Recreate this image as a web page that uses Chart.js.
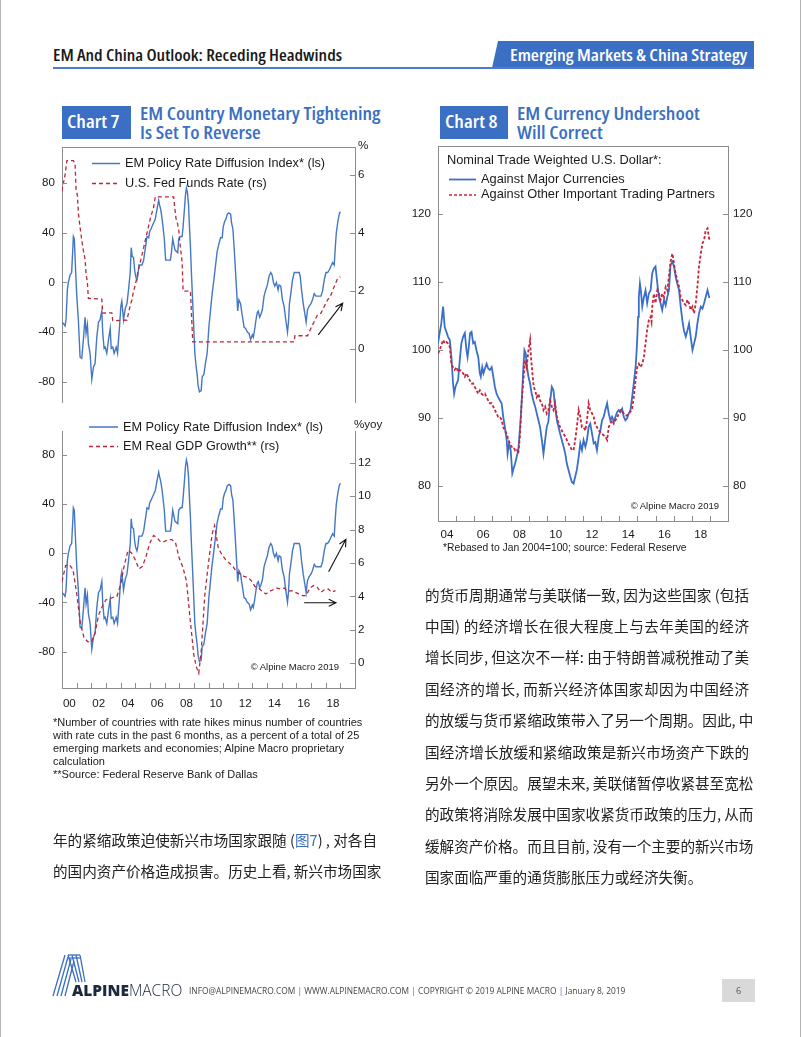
<!DOCTYPE html>
<html><head><meta charset="utf-8">
<script src="https://cdn.jsdelivr.net/npm/chart.js@4.4.1/dist/chart.umd.min.js"></script>
<style>
html,body{margin:0;padding:0;background:#fff;}
#page{position:relative;width:802px;height:1037px;overflow:hidden;font-family:"Liberation Sans",Arial,Helvetica,sans-serif;color:#1a1a1a;}
.t{position:absolute;white-space:nowrap;line-height:20px;}
.cond{font-family:"Open Sans",sans-serif;font-weight:600;font-stretch:75%;transform-origin:0 50%;}
canvas{position:absolute;}
.cn{position:absolute;left:0;width:324px;font-family:"Noto Sans CJK SC",sans-serif;font-size:14.6px;line-height:24px;color:#222;white-space:nowrap;text-align:justify;text-align-last:justify;}
.cn.last{text-align-last:left;}
</style></head>
<body><div id="page">
<!-- page frame -->
<div style="position:absolute;left:0;top:0;width:1px;height:1037px;background:#b5b5b5"></div>
<div style="position:absolute;left:800px;top:0;width:1px;height:1037px;background:#b5b5b5"></div>

<!-- header -->
<div class="t cond" style="left:53px;top:45px;font-size:15.3px;color:#1a1a1a;transform:scaleX(1.17)">EM And China Outlook: Receding Headwinds</div>
<div style="position:absolute;left:492px;top:41px;width:262px;height:27px;background:#3a6fc4;clip-path:polygon(6px 0,100% 0,100% 100%,0 100%)"></div>
<div class="t cond" style="left:510px;top:45px;font-size:15.6px;color:#fff;transform:scaleX(1.19)">Emerging Markets &amp; China Strategy</div>
<div style="position:absolute;left:53px;top:67px;width:701px;height:1.5px;background:#4f7cc8"></div>

<!-- chart titles -->
<div style="position:absolute;left:62px;top:106px;width:69px;height:33px;background:#3a6fc4"></div>
<div class="t cond" style="left:67px;top:112px;font-size:17.2px;color:#fff;transform:scaleX(1.17)">Chart 7</div>
<div class="t cond" style="left:140px;top:104px;font-size:17.2px;color:#3a6fc4;transform:scaleX(1.165)">EM Country Monetary Tightening</div>
<div class="t cond" style="left:140px;top:123px;font-size:17.2px;color:#3a6fc4;transform:scaleX(1.165)">Is Set To Reverse</div>

<div style="position:absolute;left:440px;top:106px;width:68px;height:33px;background:#3a6fc4"></div>
<div class="t cond" style="left:445px;top:112px;font-size:17.2px;color:#fff;transform:scaleX(1.17)">Chart 8</div>
<div class="t cond" style="left:517px;top:104px;font-size:17.2px;color:#3a6fc4;transform:scaleX(1.17)">EM Currency Undershoot</div>
<div class="t cond" style="left:517px;top:123px;font-size:17.2px;color:#3a6fc4;transform:scaleX(1.17)">Will Correct</div>

<!-- canvases -->
<canvas id="c7a" width="360" height="256" style="left:30px;top:147px"></canvas>
<canvas id="c7b" width="360" height="282" style="left:30px;top:431px"></canvas>
<canvas id="c8" width="360" height="400" style="left:400px;top:146px"></canvas>

<!-- legend samples -->
<svg style="position:absolute;left:0;top:0" width="802" height="1037">
  <line x1="92" y1="163.5" x2="120" y2="163.5" stroke="#4577c4" stroke-width="1.5"/>
  <line x1="92" y1="183.5" x2="120" y2="183.5" stroke="#b8283b" stroke-width="1.3" stroke-dasharray="4 3"/>
  <line x1="89" y1="427" x2="118" y2="427" stroke="#4577c4" stroke-width="1.5"/>
  <line x1="89" y1="446.5" x2="118" y2="446.5" stroke="#b8283b" stroke-width="1.3" stroke-dasharray="4 3"/>
  <line x1="449" y1="179.5" x2="476" y2="179.5" stroke="#3a6fc9" stroke-width="1.8"/>
  <line x1="449" y1="195" x2="476" y2="195" stroke="#c8243a" stroke-width="1.6" stroke-dasharray="3 2"/>
</svg>
<div class="t" style="left:125px;top:153px;font-size:12.7px">EM Policy Rate Diffusion Index* (ls)</div>
<div class="t" style="left:125px;top:173px;font-size:12.7px">U.S. Fed Funds Rate (rs)</div>
<div class="t" style="left:358px;top:135px;font-size:11.6px">%</div>
<div class="t" style="left:123px;top:417px;font-size:12.7px">EM Policy Rate Diffusion Index* (ls)</div>
<div class="t" style="left:123px;top:436px;font-size:12.7px">EM Real GDP Growth** (rs)</div>
<div class="t" style="left:354px;top:414px;font-size:11.6px">%yoy</div>
<div class="t" style="left:240px;width:99px;text-align:right;top:657px;font-size:9.5px">© Alpine Macro 2019</div>

<!-- chart 8 legend -->
<div class="t" style="left:447px;top:150px;font-size:12.8px">Nominal Trade Weighted U.S. Dollar*:</div>
<div class="t" style="left:481px;top:169px;font-size:12.8px">Against Major Currencies</div>
<div class="t" style="left:481px;top:184px;font-size:12.8px">Against Other Important Trading Partners</div>
<div class="t" style="left:600px;width:119px;text-align:right;top:496px;font-size:9.5px">© Alpine Macro 2019</div>

<!-- footnotes -->
<div style="position:absolute;left:53px;top:716px;font-size:11px;line-height:13px;white-space:nowrap">*Number of countries with rate hikes minus number of countries<br>with rate cuts in the past 6 months, as a percent of a total of 25<br>emerging markets and economies; Alpine Macro proprietary<br>calculation<br>**Source: Federal Reserve Bank of Dallas</div>
<div class="t" style="left:443px;top:538px;font-size:10.3px">*Rebased to Jan 2004=100; source: Federal Reserve</div>

<!-- chinese text left -->
<div style="position:absolute;left:53px;top:828px;width:324px;height:70px">
  <div class="cn" style="top:0">年的紧缩政策迫使新兴市场国家跟随 (<span style="color:#3a6fc4">图7</span>) , 对各自</div>
  <div class="cn" style="top:31px">的国内资产价格造成损害。历史上看, 新兴市场国家</div>
</div>
<!-- chinese text right -->
<div style="position:absolute;left:425px;top:582.5px;width:324px;height:320px">
  <div class="cn" style="top:0px">的货币周期通常与美联储一致, 因为这些国家 (包括</div>
  <div class="cn" style="top:31.4px">中国) 的经济增长在很大程度上与去年美国的经济</div>
  <div class="cn" style="top:62.8px">增长同步, 但这次不一样: 由于特朗普减税推动了美</div>
  <div class="cn" style="top:94.2px">国经济的增长, 而新兴经济体国家却因为中国经济</div>
  <div class="cn" style="top:125.6px">的放缓与货币紧缩政策带入了另一个周期。因此, 中</div>
  <div class="cn" style="top:157px">国经济增长放缓和紧缩政策是新兴市场资产下跌的</div>
  <div class="cn" style="top:188.4px">另外一个原因。展望未来, 美联储暂停收紧甚至宽松</div>
  <div class="cn" style="top:219.8px">的政策将消除发展中国家收紧货币政策的压力, 从而</div>
  <div class="cn" style="top:251.2px">缓解资产价格。而且目前, 没有一个主要的新兴市场</div>
  <div class="cn last" style="top:282.6px">国家面临严重的通货膨胀压力或经济失衡。</div>
</div>

<!-- footer -->
<svg style="position:absolute;left:50px;top:952px" width="46" height="46" viewBox="0 0 46 46">
  <g stroke="#3a6fc4" stroke-width="1.3" fill="none">
    <line x1="3" y1="44" x2="15" y2="3"/>
    <line x1="7" y1="44" x2="18" y2="5"/>
    <line x1="11" y1="44" x2="21" y2="7"/>
    <line x1="15" y1="44" x2="24" y2="9"/>
    <line x1="18" y1="3" x2="30" y2="3"/>
    <line x1="19" y1="6" x2="31" y2="6"/>
    <line x1="18" y1="3" x2="26" y2="30"/>
    <line x1="22" y1="3" x2="29" y2="30"/>
    <line x1="26" y1="3" x2="32" y2="30"/>
    <line x1="30" y1="3" x2="35" y2="30"/>
  </g>
</svg>
<div class="t" style="left:72px;top:980px;font-family:'Open Sans',sans-serif;font-size:15.5px;color:#1c2740"><b style="font-weight:800">ALPINE</b><span style="font-weight:300">MACRO</span></div>
<div class="t" style="left:189px;top:981px;font-family:'Open Sans',sans-serif;font-size:8.4px;color:#444">INFO@ALPINEMACRO.COM <span style="color:#3a6fc4">|</span> WWW.ALPINEMACRO.COM <span style="color:#3a6fc4">|</span> COPYRIGHT © 2019 ALPINE MACRO <span style="color:#3a6fc4">|</span> January 8, 2019</div>
<div style="position:absolute;left:722px;top:979px;width:33px;height:23px;background:#d9d9d9"></div>
<div class="t" style="left:722px;width:33px;text-align:center;top:980.5px;font-family:'Open Sans',sans-serif;font-size:9px;color:#555">6</div>
</div>

<script>
// ===== DATA =====
// Chart 7: EM policy rate diffusion index (months since Jan 2000, value)
const diffMonths = [0,1.1,2.5,3.3,4.4,5.2,6.6,7.9,8.8,9.3,10.1,11,12.1,13.4,14.8,16.2,17.5,18.9,19.7,20.8,21.6,23,24.4,25.8,27.1,28.5,29.9,31.2,32.6,33.4,34.5,35.3,36.7,38.1,39.5,40.3,41.6,42.7,44.4,45.5,46.3,47.1,48.2,49,50.4,51.8,53.2,54.5,55.9,56.7,57.5,58.6,59.5,60.3,61.4,62.2,63,64.1,65.5,66.9,67.7,68.5,69.6,71,71.8,72.9,73.7,75.1,76.4,77.3,78.4,79.2,80,80.8,81.9,82.7,83.8,84.9,86,87.4,88.8,89.6,90.7,91.5,92.6,93.7,94.8,95.6,97,98.4,99.2,100.3,101.1,101.9,102.8,103.6,104.4,105.2,106,107.1,108,108.8,109.9,110.7,111.5,112.6,114,114.8,116.2,117.5,118.9,120.3,121.7,123,124.4,125.8,127.1,128.5,129.9,131.2,132.1,133.2,134.3,135.4,136.7,138.1,138.9,140,140.8,141.9,143,143.9,144.9,146.3,147.1,148.2,149.1,150.4,151.8,153.2,154.5,155.9,156.7,157.8,158.9,160,160.8,161.9,162.8,164.1,165.5,166.9,168.2,169.6,171,172.1,173.2,174.3,175.6,177,177.8,179.2,180.6,181.9,183.3,184.7,185.5,186.3,187.4,188.8,190.2,191.5,192.9,194.3,195.1,196.2,197.6,198.9,200,201.1,202.5,203.9,205.2,206.6,208,209.3,210.7,212.1,213.4,214.8,216.2,217.6,218.9,220.3,221.7,223,223.9,224.7,225.8,227.1,228];
const diffValues = [-32,-33,-35,-30,-6,0,6,8,26,37,35,13,-11,-30,-60,-61,-46,-28,-41,-34,-49,-57,-78,-68,-65,-44,-32,-30,-23,-41,-53,-52,-57,-46,-37,-53,-52,-57,-52,-57,-46,-36,-19,-15,-30,-21,-17,-6,8,28,21,20,10,5,2,6,14,14,14,18,24,29,37,36,41,43,45,48,51,56,62,66,62,59,52,45,35,18,18,18,18,24,35,31,26,25,24,35,37,37,45,59,70,76,72,63,45,29,8,-17,-38,-57,-68,-74,-83,-88,-87,-76,-74,-65,-57,-36,-22,-9,2,14,25,31,36,36,45,49,51,55,56,55,48,43,31,13,-6,-23,-14,-17,-23,-30,-36,-37,-40,-41,-46,-42,-44,-38,-30,-24,-23,-28,-26,-22,-11,-6,-2,5,8,6,0,-3,0,-6,-2,-3,-14,-19,-30,-40,-32,-17,-9,2,8,8,8,8,5,-6,-17,-25,-32,-22,-19,-17,-14,-9,-11,-11,-11,-11,-7,2,8,8,10,13,16,14,29,40,48,55,57];
// U.S. Fed funds rate, %
const fedMonths = [0,1,2.5,4,9.3,10.7,11.5,12.6,13.4,14.8,16.2,17.5,18.9,19.7,20.8,21.6,32.6,33.4,40.8,41.6,53.2,54.5,55.9,57.3,58.6,60,61.4,62.7,64.1,65.5,66.9,68.2,69.6,71,72.3,73.7,75.1,76.4,91.5,92.3,93.4,94.3,95.6,97,98.4,99.2,105.2,106,107.1,190.2,190.8,201.1,203.9,206.6,209.3,212.1,214.8,217.6,220.3,223,225.8,228];
const fedValues = [5.45,5.7,6.0,6.5,6.5,6.4,5.5,5.3,4.7,4.2,3.75,3.4,3.1,2.6,2.3,1.75,1.72,1.24,1.25,0.98,1.0,1.25,1.5,1.7,2.0,2.2,2.5,2.75,3.0,3.25,3.5,3.75,4.0,4.25,4.5,4.7,4.9,5.25,5.25,4.9,4.5,4.4,4.1,3.5,3.0,2.0,2.0,1.25,0.25,0.25,0.46,0.46,0.72,0.95,1.18,1.24,1.47,1.7,1.87,2.16,2.44,2.5];
// EM real GDP growth, %yoy (quarterly)
const gdpMonths = [0,3,6,9,12,15,18,21,24,27,30,33,36,39,42,45,48,51,54,57,60,63,66,69,72,75,78,81,84,87,90,93,96,99,102,105,108,110,112,114,117,120,123,125,128,131,134,137,140,143,146,149,152,155,158,161,164,167,170,173,176,179,182,185,188,191,194,197,200,203,206,209,212,215,218,221,224];
const gdpValues = [4.9,5.85,5.9,5.6,4.2,2.4,1.55,1.3,1.25,1.8,2.9,3.4,3.8,3.85,3.95,4.0,4.7,5.85,6.75,6.6,6.2,5.65,5.8,6.45,7.2,7.65,7.5,7.25,7.3,7.4,7.4,7.2,6.3,5.75,4.9,2.6,0.5,-0.2,-0.6,0.7,4.1,6.0,7.75,8.25,6.9,6.5,6.2,6.0,5.8,5.45,5.35,5.2,5.15,4.95,4.6,4.5,4.3,4.15,4.3,4.4,4.5,4.45,4.5,4.3,4.35,4.25,4.15,4.05,4.05,4.5,4.65,4.55,4.25,4.4,4.45,4.25,4.35];
const chart7LabelYears = [2000,2002,2004,2006,2008,2010,2012,2014,2016,2018];
const chart7Labels = ['00','02','04','06','08','10','12','14','16','18'];
const chart7TickYears = [2001,2002,2003,2004,2005,2006,2007,2008,2009,2010,2011,2012,2013,2014,2015,2016,2017,2018,2019];
const diffTicks = [-80,-40,0,40,80];
const fedTicks = [0,2,4,6];
const gdpTicks = [0,2,4,6,8,10,12];
// Arrow annotations (year, left-axis value)
const arrowsTop = [[2017.49,-42.2,2019.16,-16.7]];
const arrowsBottom = [[2018.2,-15,2019.38,11.4],[2016.53,-40.2,2018.7,-40.2]];

// Chart 8: Nominal trade weighted USD (Jan 2004 = 100)
const majorDates = [2004.00,2004.09,2004.18,2004.28,2004.37,2004.46,2004.55,2004.65,2004.74,2004.83,2004.89,2004.96,2005.03,2005.11,2005.20,2005.29,2005.39,2005.48,2005.57,2005.63,2005.70,2005.77,2005.85,2005.94,2006.03,2006.12,2006.22,2006.31,2006.36,2006.44,2006.51,2006.59,2006.68,2006.77,2006.86,2006.96,2007.05,2007.14,2007.23,2007.32,2007.42,2007.51,2007.60,2007.69,2007.79,2007.84,2007.92,2008.01,2008.10,2008.17,2008.25,2008.34,2008.43,2008.53,2008.62,2008.71,2008.77,2008.84,2008.91,2008.99,2009.08,2009.17,2009.26,2009.36,2009.45,2009.54,2009.63,2009.73,2009.82,2009.91,2010.00,2010.09,2010.19,2010.28,2010.37,2010.46,2010.56,2010.65,2010.74,2010.83,2010.93,2011.02,2011.11,2011.20,2011.30,2011.39,2011.48,2011.57,2011.66,2011.76,2011.85,2011.94,2012.03,2012.13,2012.22,2012.31,2012.40,2012.50,2012.59,2012.68,2012.77,2012.87,2012.96,2013.05,2013.14,2013.23,2013.33,2013.42,2013.51,2013.60,2013.70,2013.79,2013.88,2013.97,2014.07,2014.16,2014.25,2014.34,2014.43,2014.53,2014.62,2014.71,2014.80,2014.90,2014.95,2014.99,2015.04,2015.08,2015.14,2015.19,2015.27,2015.36,2015.45,2015.54,2015.63,2015.73,2015.82,2015.91,2016.00,2016.10,2016.19,2016.28,2016.37,2016.47,2016.56,2016.65,2016.74,2016.83,2016.93,2017.02,2017.11,2017.20,2017.30,2017.39,2017.48,2017.57,2017.67,2017.76,2017.85,2017.94,2018.04,2018.13,2018.22,2018.31,2018.40,2018.50,2018.59,2018.68,2018.77,2018.87,2018.96,2019.01];
const majorValues = [101,102.5,103.9,106.4,103.4,102.7,102,101.5,99,95.1,93.6,94.6,95.1,95.6,98.5,101,102,102.5,100,99,100.5,102.5,102.7,101,101.2,100,99,96.6,96.1,97.5,96.6,97.3,98.0,97.3,97.1,97.5,96.1,94.6,93.6,93.1,92.6,92.2,90.2,88.7,86.8,84.8,86.3,85.3,81.9,82.6,83.3,84.3,85.3,88.7,92.6,97.5,100,99.5,97.5,96.1,95.1,93.6,92.6,91.7,90.7,89.7,88.7,86.8,84.8,86.8,88.7,89.5,92.6,94.6,94.1,91.7,89.7,88.7,87.7,86.8,85.8,84.8,83.3,82.4,81.4,80.6,80.4,81.4,82.4,84.3,86.3,85.3,86.8,85.8,86.8,88.7,89.2,87.7,86.3,86.5,85.3,87.3,88.2,89.7,90.2,91.2,92.2,90.7,89.7,90.2,89.5,90.2,90.9,91.2,90.9,91.4,90.2,89.7,90.0,90.7,91.2,93.1,95.1,97.5,99.5,101.5,104.9,107.8,109.8,108.8,106.4,107.8,108.8,106.9,108.3,108.8,111.3,112.0,112.3,109.8,107.8,106.9,105.9,107.4,106.6,107.8,108.8,112.5,113.0,112.3,110.8,109.8,108.8,106.4,104.4,102.9,102.0,102.9,103.9,102.0,100,101,102,103.9,105.4,106.4,106.1,106.9,107.8,108.8,107.8,107.8];
const otherDates = [2004.00,2004.09,2004.18,2004.28,2004.37,2004.46,2004.55,2004.65,2004.74,2004.83,2004.92,2005.02,2005.11,2005.20,2005.29,2005.39,2005.48,2005.57,2005.66,2005.75,2005.85,2005.94,2006.03,2006.12,2006.22,2006.31,2006.40,2006.49,2006.59,2006.68,2006.77,2006.86,2006.96,2007.05,2007.14,2007.23,2007.32,2007.42,2007.51,2007.60,2007.69,2007.79,2007.88,2007.97,2008.06,2008.16,2008.25,2008.34,2008.43,2008.53,2008.62,2008.71,2008.80,2008.89,2008.99,2009.08,2009.13,2009.21,2009.28,2009.36,2009.45,2009.54,2009.63,2009.73,2009.82,2009.91,2010.00,2010.09,2010.19,2010.28,2010.37,2010.46,2010.56,2010.65,2010.74,2010.83,2010.93,2011.02,2011.11,2011.20,2011.30,2011.39,2011.48,2011.57,2011.66,2011.76,2011.85,2011.94,2012.03,2012.13,2012.22,2012.31,2012.40,2012.50,2012.59,2012.68,2012.77,2012.87,2013.05,2013.23,2013.33,2013.42,2013.51,2013.60,2013.70,2013.79,2013.88,2013.97,2014.07,2014.16,2014.25,2014.34,2014.43,2014.53,2014.62,2014.71,2014.80,2014.90,2014.99,2015.08,2015.17,2015.27,2015.36,2015.45,2015.54,2015.63,2015.73,2015.78,2015.82,2015.91,2016.00,2016.10,2016.19,2016.28,2016.37,2016.47,2016.56,2016.65,2016.74,2016.83,2016.93,2016.98,2017.04,2017.11,2017.20,2017.30,2017.39,2017.48,2017.57,2017.67,2017.76,2017.85,2017.94,2018.04,2018.13,2018.22,2018.31,2018.40,2018.50,2018.59,2018.68,2018.77,2018.87,2018.96,2019.01];
const otherValues = [99.5,100,100.7,101.5,101,101.2,101,100.5,98.0,97.5,97.1,97.5,96.8,97.1,96.8,96.6,96.1,96.6,96.1,95.6,95.1,95.1,94.6,94.1,93.6,94.1,93.6,93.4,93.6,93.1,92.6,92.2,92.2,91.7,91.2,90.7,90.2,90.2,89.7,88.7,88.2,87.7,86.8,86.3,85.8,85.8,85.3,85.5,84.8,87.7,92.6,95.6,98.5,97.5,100,101.5,99.0,96.6,94.6,94.1,93.1,93.6,92.6,92.2,91.2,91.7,90.7,91.2,92.6,91.7,91.2,92.2,90.2,89.2,88.7,88.2,87.7,87.3,86.8,86.3,85.8,85.3,85.3,86.8,88.7,91.2,90.2,88.7,88.7,88.2,89.7,92.2,91.2,90.7,90.2,89.0,88.7,88.2,87.7,87.3,86.8,88.7,89.2,89.7,89.2,89.7,90.0,90.7,91.2,91.0,90.7,90.4,90.4,90.7,91.0,91.4,93.1,95.6,97.5,98.0,97.5,98.0,99.0,101,103,104.4,104.9,104.2,106.4,108.3,106.9,108.8,108.3,107.4,108.3,107.8,109.3,108.8,110.8,113.0,114.2,113.5,112.3,111.3,110.3,109.3,107.8,107.4,106.9,106.6,107.4,106.9,105.9,106.4,105.4,106.9,109.3,112.3,114.2,115.7,116.2,117.6,117.9,116.4,116.2];
const chart8LabelYears = [2004,2006,2008,2010,2012,2014,2016,2018];
const chart8Labels = ['04','06','08','10','12','14','16','18'];
const chart8TickYears = [2005,2006,2007,2008,2009,2010,2011,2012,2013,2014,2015,2016,2017,2018,2019];
const usdTicks = [80,90,100,110,120];

// ===== STYLE =====
const AX = '#8c8c8c';
const BLUE7 = '#4577c4', RED7 = '#b8283b';
const BLUE8 = '#3a6fc9', RED8 = '#c8243a';
const tickFont = {family:'"Liberation Sans", Arial, Helvetica, sans-serif', size:11.6};

const pts = (xs, ys) => xs.map((x,i)=>({x:x, y:ys[i]}));
const m2y = ms => ms.map(m => 2000 + m/12);

function yScale(pos, min, max, ticks, width, pad){
  return {
    type:'linear', position:pos, min:min, max:max, bounds:'data',
    afterBuildTicks: s => { s.ticks = ticks.map(v=>({value:v})); },
    afterFit: s => { s.width = width; s.paddingTop = 0; s.paddingBottom = 0; },
    grid:{display:false, drawTicks:false},
    border:{display:true, color:AX, width:1},
    ticks:{padding:pad, font:tickFont, color:'#1a1a1a', autoSkip:false, callback: v => String(v)}
  };
}
function xScale(min, max, labelYears, labels, show, height, pad){
  return {
    type:'linear', position:'bottom', min:min, max:max, bounds:'data', display:show,
    afterBuildTicks: s => { s.ticks = labelYears.map(y=>({value:y+0.5})); },
    afterFit: s => { s.height = height; s.paddingLeft = 0; s.paddingRight = 0; },
    grid:{display:false, drawTicks:false},
    border:{display:true, color:AX, width:1},
    ticks:{padding:pad, font:tickFont, color:'#1a1a1a', autoSkip:false, maxRotation:0, minRotation:0, callback:(v,i)=>labels[i]}
  };
}

const framePlugin = {
  id:'frame',
  afterDraw(chart, args, o){
    const ctx = chart.ctx, a = chart.chartArea, sc = chart.scales;
    ctx.save();
    ctx.strokeStyle = AX; ctx.lineWidth = 1;
    if (o.top){ ctx.beginPath(); ctx.moveTo(a.left, a.top+0.5); ctx.lineTo(a.right, a.top+0.5); ctx.stroke(); }
    (o.yTicks||[]).forEach(t=>{
      const s = sc[t.id];
      t.values.forEach(v=>{
        const y = Math.round(s.getPixelForValue(v))+0.5;
        const x0 = t.side==='left' ? a.left : a.right;
        const dx = t.side==='left' ? 5 : -5;
        ctx.beginPath(); ctx.moveTo(x0,y); ctx.lineTo(x0+dx,y); ctx.stroke();
      });
    });
    (o.xTicks||[]).forEach(v=>{
      const x = Math.round(sc.x.getPixelForValue(v))+0.5;
      ctx.beginPath(); ctx.moveTo(x,a.bottom); ctx.lineTo(x,a.bottom-5); ctx.stroke();
    });
    ctx.strokeStyle = '#111'; ctx.lineWidth = 1.1;
    (o.arrows||[]).forEach(ar=>{
      const ys = sc[o.arrowAxis];
      const x1 = sc.x.getPixelForValue(ar[0]), y1 = ys.getPixelForValue(ar[1]);
      const x2 = sc.x.getPixelForValue(ar[2]), y2 = ys.getPixelForValue(ar[3]);
      const ang = Math.atan2(y2-y1, x2-x1), L = 8, sp = 0.45;
      ctx.beginPath(); ctx.moveTo(x1,y1); ctx.lineTo(x2,y2);
      ctx.moveTo(x2 - L*Math.cos(ang-sp), y2 - L*Math.sin(ang-sp)); ctx.lineTo(x2,y2);
      ctx.lineTo(x2 - L*Math.cos(ang+sp), y2 - L*Math.sin(ang+sp));
      ctx.stroke();
    });
    ctx.restore();
  }
};

const common = {
  responsive:false, animation:false, devicePixelRatio:1, events:[],
  layout:{padding:0},
  elements:{point:{radius:0}, line:{tension:0}},
};

// Chart 7 top panel
new Chart(document.getElementById('c7a'), {
  type:'line',
  data:{datasets:[
    {data:pts(m2y(fedMonths), fedValues), yAxisID:'yR', borderColor:RED7, borderWidth:1.3, borderDash:[4,3], pointRadius:0, fill:false},
    {data:pts(m2y(diffMonths), diffValues), yAxisID:'yL', borderColor:BLUE7, borderWidth:1.4, pointRadius:0, fill:false}
  ]},
  options:Object.assign({}, common, {
    plugins:{legend:{display:false}, tooltip:{enabled:false},
      frame:{top:true, yTicks:[{id:'yL',side:'left',values:diffTicks},{id:'yR',side:'right',values:fedTicks}], arrows:arrowsTop, arrowAxis:'yL'}},
    scales:{
      x: xScale(2000, 2020, chart7LabelYears, chart7Labels, false, 0, 9),
      yL: yScale('left', -97, 109, diffTicks, 32, 7),
      yR: yScale('right', -1.86, 6.97, fedTicks, 35, 3)
    }
  }),
  plugins:[framePlugin]
});

// Chart 7 bottom panel
new Chart(document.getElementById('c7b'), {
  type:'line',
  data:{datasets:[
    {data:pts(m2y(gdpMonths), gdpValues), yAxisID:'yR', borderColor:RED7, borderWidth:1.3, borderDash:[4,3], pointRadius:0, fill:false},
    {data:pts(m2y(diffMonths), diffValues), yAxisID:'yL', borderColor:BLUE7, borderWidth:1.4, pointRadius:0, fill:false}
  ]},
  options:Object.assign({}, common, {
    plugins:{legend:{display:false}, tooltip:{enabled:false},
      frame:{top:false, yTicks:[{id:'yL',side:'left',values:diffTicks},{id:'yR',side:'right',values:gdpTicks}], xTicks:chart7TickYears, arrows:arrowsBottom, arrowAxis:'yL'}},
    scales:{
      x: xScale(2000, 2020, chart7LabelYears, chart7Labels, true, 25, 9),
      yL: yScale('left', -109.6, 99.5, diffTicks, 32, 7),
      yR: yScale('right', -1.48, 13.9, gdpTicks, 35, 3)
    }
  }),
  plugins:[framePlugin]
});

// Chart 8
new Chart(document.getElementById('c8'), {
  type:'line',
  data:{datasets:[
    {data:pts(otherDates, otherValues), yAxisID:'yL', borderColor:RED8, borderWidth:1.8, borderDash:[3,2], pointRadius:0, fill:false},
    {data:pts(majorDates, majorValues), yAxisID:'yL', borderColor:BLUE8, borderWidth:1.8, pointRadius:0, fill:false}
  ]},
  options:Object.assign({}, common, {
    plugins:{legend:{display:false}, tooltip:{enabled:false},
      frame:{top:true, yTicks:[{id:'yL',side:'left',values:usdTicks},{id:'yR',side:'right',values:usdTicks}], xTicks:chart8TickYears}},
    scales:{
      x: xScale(2004, 2020, chart8LabelYears, chart8Labels, true, 25, 7),
      yL: yScale('left', 74.9, 130, usdTicks, 38, 7),
      yR: yScale('right', 74.9, 130, usdTicks, 32, 5)
    }
  }),
  plugins:[framePlugin]
});
</script>
</body></html>
